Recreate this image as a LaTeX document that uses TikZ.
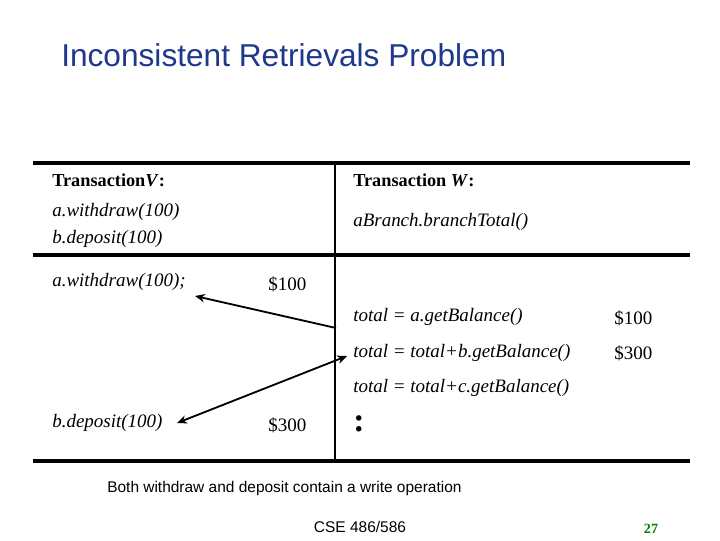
\documentclass[tikz,border=0pt]{standalone}
\usepackage{fontspec}
\setmainfont{Liberation Serif}
\setsansfont{Liberation Sans}
\usetikzlibrary{positioning,arrows.meta}
\begin{document}
\begin{tikzpicture}[x=0.025cm, y=-0.025cm,
        txt/.style={anchor=west, inner sep=0pt, font=\fontsize{13.5}{15}\selectfont\itshape},
        hd/.style={anchor=west, inner sep=0pt, font=\fontsize{13}{15}\selectfont\bfseries},
        amt/.style={anchor=west, inner sep=0pt, font=\fontsize{13.5}{15}\selectfont},
        rule/.style={line width=2.6pt},
        link/.style={line width=1.3pt, >={Stealth[length=7pt,width=6pt]}},
    ]

    \definecolor{titleblue}{RGB}{31,56,140}
    \definecolor{pagegreen}{RGB}{0,128,0}
    \useasboundingbox (0,0) rectangle (720,540);

    % Title
    \node[anchor=west, inner sep=0pt, text=titleblue, font=\sffamily\fontsize{22.5}{26}\selectfont] (title) at (61,55) {Inconsistent Retrievals Problem};

    % Table rules
    \coordinate (tl) at (33,163);
    \coordinate (tr) at (690,163);
    \draw[rule] (tl) -- (tr);
    \draw[rule] (33,255) -- (690,255);
    \draw[rule] (33,461) -- (690,461);
    \draw[line width=2pt] (335,163) -- (335,461);

    % Headers
    \node[hd] (hv) at (52,180) {Transaction\textit{V}:};
    \node[hd] (hw) at (353,180) {Transaction \textit{W}:};
    \node[txt] (vw) at (52,212) {a.withdraw(100)};
    \node[txt] (vd) at (52,239) {b.deposit(100)};
    \node[txt] (wb) at (353,222) {aBranch.branchTotal()};

    % Body
    \node[txt] (aw) at (52,282) {a.withdraw(100);};
    \node[amt] (m1) at (268,284) {\$100};
    \node[txt] (t1) at (353,317) {total = a.getBalance()};
    \node[amt] (m2) at (614,318) {\$100};
    \node[txt] (t2) at (353,353) {total = total+b.getBalance()};
    \node[amt] (m3) at (614,353) {\$300};
    \node[txt] (t3) at (353,388) {total = total+c.getBalance()};
    \node[txt] (bd) at (52,423) {b.deposit(100)};
    \node[amt] (m4) at (268,425) {\$300};
    \node[inner sep=0pt, font=\fontsize{24}{24}\selectfont\bfseries] (dots) at (359,424) {:};

    % Arrows
    \coordinate (a1) at (195,296);
    \coordinate (p1) at (336,328);
    \coordinate (b1) at (177,423);
    \coordinate (p2) at (347,356);
    \draw[link, ->] (p1) -- (a1);
    \draw[link, <->] (b1) -- (p2);

    % Footer
    \node[anchor=west, inner sep=0pt, font=\sffamily\fontsize{11}{13}\selectfont] (note) at (107,488) {Both withdraw and deposit contain a write operation};
    \node[inner sep=0pt, font=\sffamily\fontsize{11}{13}\selectfont] (course) at (360,527) {CSE 486/586};
    \node[inner sep=0pt, text=pagegreen, font=\fontsize{10}{12}\selectfont\bfseries] (page) at (651,529) {27};

\end{tikzpicture}
\end{document}
